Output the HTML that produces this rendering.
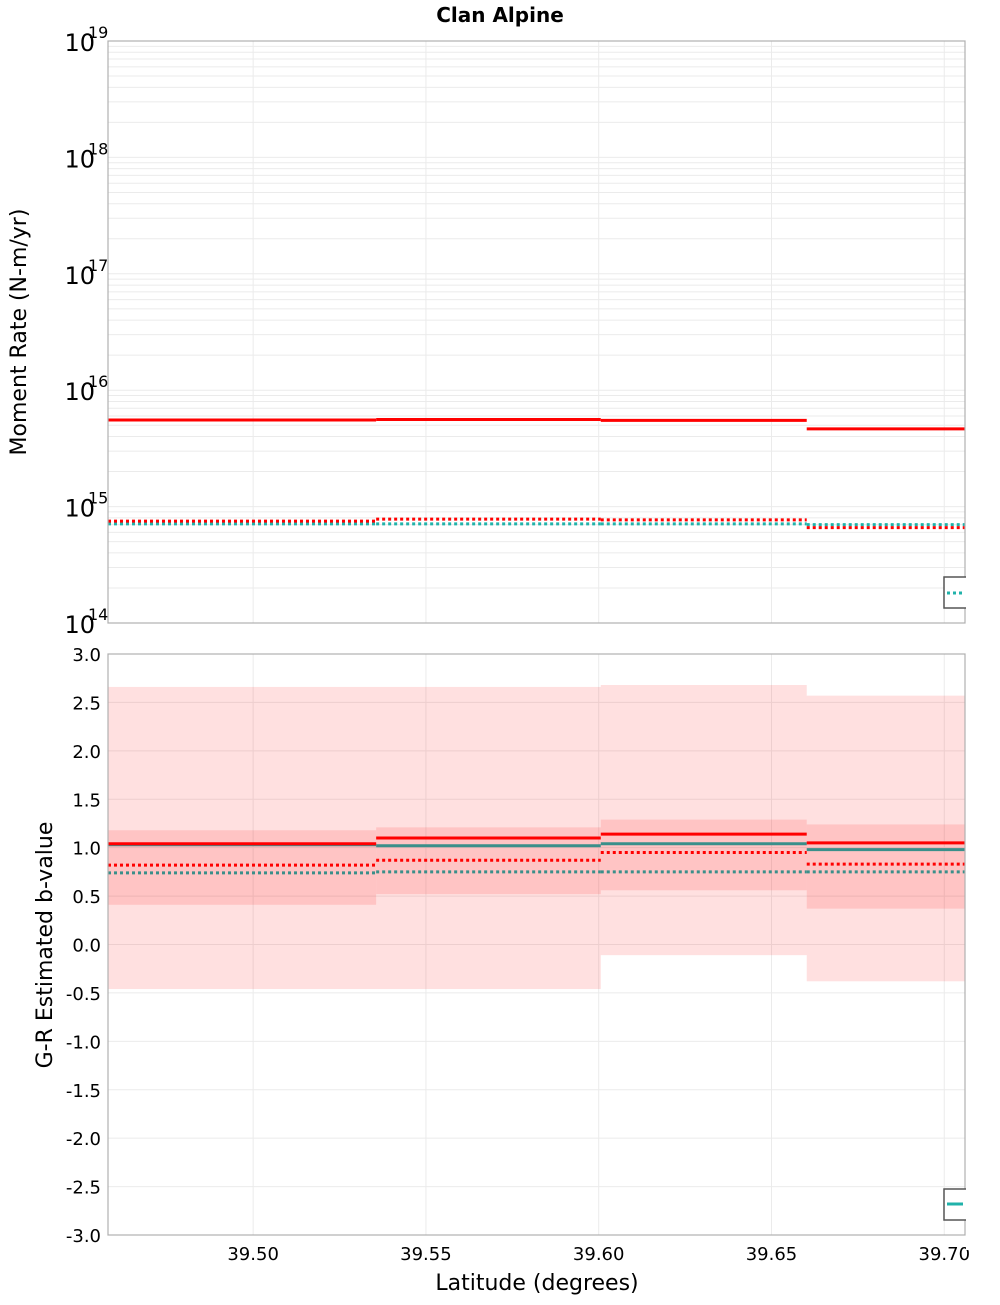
<!DOCTYPE html>
<html><head><meta charset="utf-8"><style>
body{margin:0;background:#fff;}
svg text{font-family:"DejaVu Sans","Liberation Sans",sans-serif;}
</style></head><body>
<svg id="c" width="1000" height="1300" xmlns="http://www.w3.org/2000/svg">
<text x="500" y="22" text-anchor="middle" font-size="20" font-weight="bold">Clan Alpine</text>
<g id="topPanel"></g>
<g id="botPanel"></g>
<text transform="translate(26,332) rotate(-90)" text-anchor="middle" font-size="22">Moment Rate (N-m/yr)</text>
<text transform="translate(52,945) rotate(-90)" text-anchor="middle" font-size="22">G-R Estimated b-value</text>
<text x="537" y="1290" text-anchor="middle" font-size="22">Latitude (degrees)</text>
</svg>
<script>
const edges = [39.458, 39.5356, 39.6006, 39.6602, 39.706];
const xTicks = [39.50, 39.55, 39.60, 39.65, 39.70];
const xTickLabels = ["39.50","39.55","39.60","39.65","39.70"];
const momentSolid = [5.55e15, 5.6e15, 5.5e15, 4.65e15];
const momentRedDot = [7.5e14, 7.8e14, 7.7e14, 6.6e14];
const momentTealDot = [7.1e14, 7.1e14, 7.1e14, 7.0e14];
const bRed = [1.04, 1.10, 1.14, 1.05];
const bTeal = [1.03, 1.02, 1.04, 0.98];
const bRedDot = [0.82, 0.87, 0.95, 0.83];
const bTealDot = [0.74, 0.75, 0.75, 0.75];
const bInnerHi = [1.18, 1.21, 1.29, 1.24];
const bInnerLo = [0.41, 0.52, 0.56, 0.37];
const bOuterHi = [2.66, 2.66, 2.68, 2.57];
const bOuterLo = [-0.46, -0.46, -0.11, -0.38];
const bTicks = [3,2.5,2,1.5,1,0.5,0,-0.5,-1,-1.5,-2,-2.5,-3];

const NS="http://www.w3.org/2000/svg";
const L=108,R=965;
const x=v=>L+(v-39.458)/(39.706-39.458)*(R-L);
const yT=v=>41+(19-Math.log10(v))*(623-41)/5;
const yB=v=>654+(3-v)*(1235-654)/6;
function mk(p,t,a){const e=document.createElementNS(NS,t);for(const k in a)e.setAttribute(k,a[k]);p.appendChild(e);return e;}
const topG=document.getElementById('topPanel'), botG=document.getElementById('botPanel');

for(let d=14; d<19; d++) for(let m=1;m<10;m++){
  const g=mk(topG,'line',{x1:L,x2:R,y1:yT(m*Math.pow(10,d)),y2:yT(m*Math.pow(10,d)),stroke:'#ebebeb','stroke-width':1});
  
  
}
for(let d=14; d<=19; d++){
  const t=mk(topG,'text',{x:95,y:yT(Math.pow(10,d))+10,'text-anchor':'end','font-size':24});
  
  
  t.textContent='10';
  const s=mk(topG,'text',{x:88,y:yT(Math.pow(10,d))-3,'font-size':16});
  
  
  s.textContent=String(d);
}
bTicks.forEach(v=>{
  const g=mk(botG,'line',{x1:L,x2:R,y1:yB(v),y2:yB(v),stroke:'#ebebeb'});
  
  
  const t=mk(botG,'text',{x:101,y:yB(v)+7,'text-anchor':'end','font-size':18});
  
  
  t.textContent=v.toFixed(1);
});
xTicks.forEach((v,i)=>{
  [[41,623,topG],[654,1235,botG]].forEach(([a,b,p])=>{
    const g=mk(p,'line',{x1:x(v),x2:x(v),y1:a,y2:b,stroke:'#ebebeb'});
    
    
  });
  const t=mk(botG,'text',{x:x(v),y:1260,'text-anchor':'middle','font-size':18});
  
  
  t.textContent=xTickLabels[i];
});
for(let i=0;i<4;i++){
  const o=mk(botG,'rect',{x:x(edges[i]),y:yB(bOuterHi[i]),width:x(edges[i+1])-x(edges[i]),height:yB(bOuterLo[i])-yB(bOuterHi[i]),fill:'rgba(255,0,0,0.12)'});
  
  
  const n=mk(botG,'rect',{x:x(edges[i]),y:yB(bInnerHi[i]),width:x(edges[i+1])-x(edges[i]),height:yB(bInnerLo[i])-yB(bInnerHi[i]),fill:'rgba(255,0,0,0.12)'});
  
  
}
function steps(p,arr,yf,col,dash,name){
  for(let i=0;i<arr.length;i++){
    const a={x1:x(edges[i]),x2:x(edges[i+1]),y1:yf(arr[i]),y2:yf(arr[i]),stroke:col,'stroke-width':3};
    if(dash)a['stroke-dasharray']='3,3';
    const l=mk(p,'line',a);
    
    
  }
}
steps(topG,momentTealDot,yT,'#20b2aa',true,'moment-teal-dotted');
steps(topG,momentRedDot,yT,'#ff0000',true,'moment-red-dotted');
steps(topG,momentSolid,yT,'#ff0000',false,'moment-red-solid');
steps(botG,bTealDot,yB,'#3a8f8a',true,'b-teal-dotted');
steps(botG,bRedDot,yB,'#ff0000',true,'b-red-dotted');
steps(botG,bTeal,yB,'#3a8f8a',false,'b-teal-solid');
steps(botG,bRed,yB,'#ff0000',false,'b-red-solid');
[[41,623,topG],[654,1235,botG]].forEach(([a,b,p])=>{
  const r=mk(p,'rect',{x:L,y:a,width:R-L,height:b-a,fill:'none',stroke:'#b0b0b0','stroke-width':1.2});
  
  
});
const lg1=mk(topG,'rect',{x:944,y:577,width:30,height:31,fill:'#fff',stroke:'#555','stroke-width':1.5});


const ll1=mk(topG,'line',{x1:947,x2:965,y1:593,y2:593,stroke:'#20b2aa','stroke-width':3,'stroke-dasharray':'3,3'});


const lg2=mk(botG,'rect',{x:944,y:1189,width:30,height:31,fill:'#fff',stroke:'#555','stroke-width':1.5});


const ll2=mk(botG,'line',{x1:947,x2:963,y1:1204,y2:1204,stroke:'#20b2aa','stroke-width':3});


const cover=mk(document.getElementById('c'),'rect',{x:966,y:30,width:34,height:1220,fill:'#fff'});


</script>
</body></html>
